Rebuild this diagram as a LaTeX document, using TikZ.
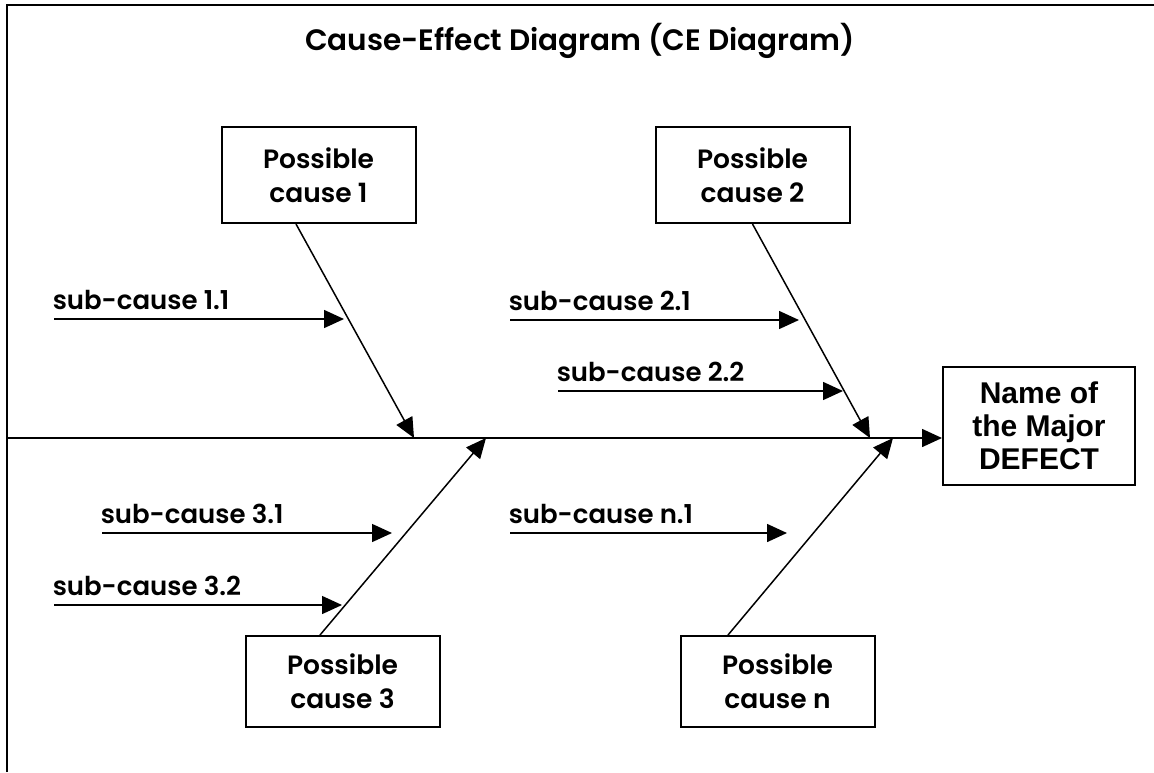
\documentclass[tikz,border=0pt]{standalone}
\usepackage{fontspec}
\setmainfont{Poppins}[BoldFont={Poppins SemiBold}]
\newfontfamily\arialfont{Liberation Sans}
\usetikzlibrary{arrows.meta}
\begin{document}
\begin{tikzpicture}[x=1pt,y=-1pt,
  line width=1.5pt,
  causebox/.style={draw, line width=2pt, minimum width=194pt, minimum height=96pt,
    align=center, inner sep=0pt, font=\fontsize{26.5}{34}\selectfont\bfseries},
  sublabel/.style={anchor=base west, inner sep=0pt, font=\fontsize{26}{28}\selectfont\bfseries},
  head/.style={-{Triangle[length=20pt,width=18pt]}},
]
\useasboundingbox (0,0) rectangle (1154,772);

% frame (top and left edges)
\coordinate (fbl) at (7,772);
\coordinate (ftl) at (7,5);
\coordinate (ftr) at (1154,5);
\draw[line width=2pt] (fbl) -- (ftl) -- (ftr);

% title
\node[anchor=base, inner sep=0pt, font=\fontsize{29.5}{34}\selectfont\bfseries] (title) at (580,50)
  {Cause-Effect Diagram (CE Diagram)};

% effect box
\node[draw, line width=2pt, minimum width=192pt, minimum height=118pt, align=center,
  inner sep=0pt, font=\arialfont\fontsize{30}{33}\selectfont\bfseries] (defect) at (1039,426)
  {Name of\\the Major\\DEFECT};

% cause boxes
\node[causebox] (c1) at (318.5,175) {Possible\\cause 1};
\node[causebox] (c2) at (752.5,175) {Possible\\cause 2};
\node[causebox, minimum height=91pt] (c3) at (342.5,681.5) {Possible\\cause 3};
\node[causebox, minimum height=91pt] (cn) at (777.5,681.5) {Possible\\cause n};

% spine
\coordinate (spL) at (7,438);
\draw[head] (spL) -- (spL -| defect.west);

% bones
\coordinate (t1) at (414,438);
\coordinate (t2) at (870,438);
\coordinate (t3) at (486,438);
\coordinate (tn) at (893,438);
\draw[head] ([xshift=-22.5pt]c1.south) -- (t1);
\draw[head] (c2.south) -- (t2);
\draw[head] ([xshift=-22.5pt]c3.north) -- (t3);
\draw[head] ([xshift=-49.5pt]cn.north) -- (tn);

% sub-causes
\node[sublabel] (l11) at (52,309) {sub-cause 1.1};
\node[sublabel] (l21) at (508,310) {sub-cause 2.1};
\node[sublabel] (l22) at (556,381) {sub-cause 2.2};
\node[sublabel] (l31) at (100,523) {sub-cause 3.1};
\node[sublabel] (l32) at (52,595) {sub-cause 3.2};
\node[sublabel] (ln1) at (508,523) {sub-cause n.1};

\coordinate (s11) at (54,319);  \coordinate (e11) at (344,319);
\coordinate (s21) at (510,320); \coordinate (e21) at (799,320);
\coordinate (s22) at (558,391); \coordinate (e22) at (843,391);
\coordinate (s31) at (102,533); \coordinate (e31) at (392,533);
\coordinate (s32) at (54,605);  \coordinate (e32) at (342,605);
\coordinate (sn1) at (510,533); \coordinate (en1) at (787,533);

\draw[head] (s11) -- (e11);
\draw[head] (s21) -- (e21);
\draw[head] (s22) -- (e22);
\draw[head] (s31) -- (e31);
\draw[head] (s32) -- (e32);
\draw[head] (sn1) -- (en1);
\end{tikzpicture}
\end{document}
